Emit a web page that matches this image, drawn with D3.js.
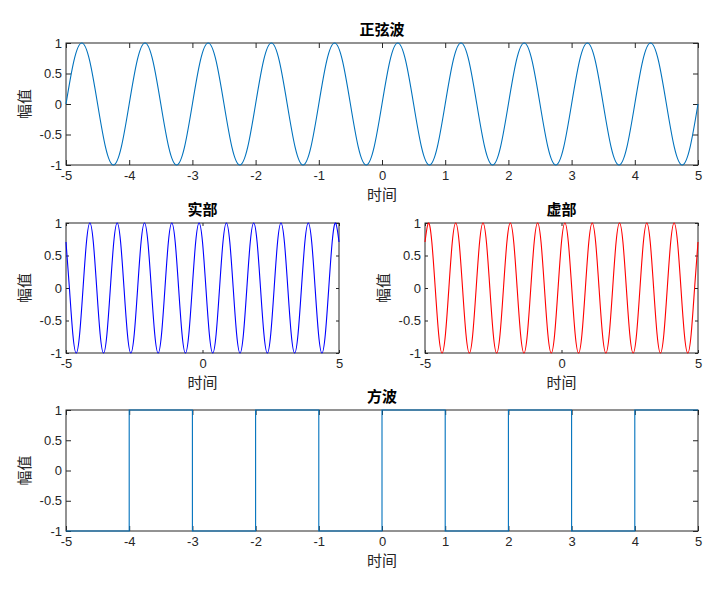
<!DOCTYPE html>
<html><head><meta charset="utf-8">
<script src="https://cdn.jsdelivr.net/npm/d3@7"></script>
<style>body{margin:0;background:#fff} svg{display:block}</style>
</head><body><svg id="c" width="726" height="589"></svg>
<script>
// sample times (s)
const time = [
 -5,-4.875,-4.75,-4.625,-4.5,-4.375,-4.25,-4.125,
 -4,-3.875,-3.75,-3.625,-3.5,-3.375,-3.25,-3.125,
 -3,-2.875,-2.75,-2.625,-2.5,-2.375,-2.25,-2.125,
 -2,-1.875,-1.75,-1.625,-1.5,-1.375,-1.25,-1.125,
 -1,-0.875,-0.75,-0.625,-0.5,-0.375,-0.25,-0.125,
 0,0.125,0.25,0.375,0.5,0.625,0.75,0.875,
 1,1.125,1.25,1.375,1.5,1.625,1.75,1.875,
 2,2.125,2.25,2.375,2.5,2.625,2.75,2.875,
 3,3.125,3.25,3.375,3.5,3.625,3.75,3.875,
 4,4.125,4.25,4.375,4.5,4.625,4.75,4.875,
 5];
const sineValues = [
 0,0.707,1,0.707,0,-0.707,-1,-0.707,
 0,0.707,1,0.707,0,-0.707,-1,-0.707,
 0,0.707,1,0.707,0,-0.707,-1,-0.707,
 0,0.707,1,0.707,0,-0.707,-1,-0.707,
 0,0.707,1,0.707,0,-0.707,-1,-0.707,
 0,0.707,1,0.707,0,-0.707,-1,-0.707,
 0,0.707,1,0.707,0,-0.707,-1,-0.707,
 0,0.707,1,0.707,0,-0.707,-1,-0.707,
 0,0.707,1,0.707,0,-0.707,-1,-0.707,
 0,0.707,1,0.707,0,-0.707,-1,-0.707,
 0];
const realValues = [
 0.707,0,-0.707,-1,-0.707,0,0.707,1,
 0.707,0,-0.707,-1,-0.707,0,0.707,1,
 0.707,0,-0.707,-1,-0.707,0,0.707,1,
 0.707,0,-0.707,-1,-0.707,0,0.707,1,
 0.707,0,-0.707,-1,-0.707,0,0.707,1,
 0.707,0,-0.707,-1,-0.707,0,0.707,1,
 0.707,0,-0.707,-1,-0.707,0,0.707,1,
 0.707,0,-0.707,-1,-0.707,0,0.707,1,
 0.707,0,-0.707,-1,-0.707,0,0.707,1,
 0.707,0,-0.707,-1,-0.707,0,0.707,1,
 0.707];
const imagValues = [
 0.707,1,0.707,0,-0.707,-1,-0.707,0,
 0.707,1,0.707,0,-0.707,-1,-0.707,0,
 0.707,1,0.707,0,-0.707,-1,-0.707,0,
 0.707,1,0.707,0,-0.707,-1,-0.707,0,
 0.707,1,0.707,0,-0.707,-1,-0.707,0,
 0.707,1,0.707,0,-0.707,-1,-0.707,0,
 0.707,1,0.707,0,-0.707,-1,-0.707,0,
 0.707,1,0.707,0,-0.707,-1,-0.707,0,
 0.707,1,0.707,0,-0.707,-1,-0.707,0,
 0.707,1,0.707,0,-0.707,-1,-0.707,0,
 0.707];
const squareTimes  = [-5,-4,-3,-2,-1,0,1,2,3,4,5];
const squareValues = [-1, 1,-1, 1,-1,1,-1,1,-1,1,1];

const titles = ["正弦波", "实部", "虚部", "方波"];
const xLabel = "时间";
const yLabel = "幅值";
const yTicks = [-1, -0.5, 0, 0.5, 1];
const xTicksFull = [-5,-4,-3,-2,-1,0,1,2,3,4,5];
const xTicksHalf = [-5, 0, 5];

const svg = d3.select("#c");
const AX = "#262626";
const tickFont = "'Liberation Sans', Arial, Helvetica, sans-serif";
const cjkFont = "'Noto Sans CJK SC', 'Noto Sans', sans-serif";

function panel(box, opts) {
  const x = d3.scaleLinear().domain([-5, 5]).range([box.l, box.r]);
  const y = d3.scaleLinear().domain([-1, 1]).range([box.b, box.t]);
  const g = svg.append("g");
  const tl = opts.tick;
  const fmt = d => String(d);

  const style = sel => {
    sel.select(".domain").remove();
    sel.selectAll("line").attr("stroke", AX).attr("stroke-width", 1);
    sel.selectAll("text").attr("fill", AX).attr("font-family", tickFont).attr("font-size", 13);
  };
  g.append("g").attr("transform", `translate(0,${box.b})`)
    .call(d3.axisBottom(x).tickValues(opts.xt).tickFormat(fmt).tickSize(-tl).tickPadding(6)).call(style);
  g.append("g").attr("transform", `translate(0,${box.t})`)
    .call(d3.axisTop(x).tickValues(opts.xt).tickFormat("").tickSize(-tl)).call(style);
  g.append("g").attr("transform", `translate(${box.l},0)`)
    .call(d3.axisLeft(y).tickValues(yTicks).tickFormat(fmt).tickSize(-tl).tickPadding(4)).call(style);
  g.append("g").attr("transform", `translate(${box.r},0)`)
    .call(d3.axisRight(y).tickValues(yTicks).tickFormat("").tickSize(-tl)).call(style);

  g.append("rect").attr("x", box.l).attr("y", box.t)
    .attr("width", box.r - box.l).attr("height", box.b - box.t)
    .attr("fill", "none").attr("stroke", AX).attr("stroke-width", 1);

  const line = d3.line().x(d => x(d[0])).y(d => y(d[1])).curve(opts.curve);
  g.append("path").datum(d3.zip(opts.tx, opts.vals))
    .attr("d", line).attr("fill", "none")
    .attr("stroke", opts.color).attr("stroke-width", 1.1);

  g.append("text").attr("x", (box.l + box.r) / 2).attr("y", box.t - 8)
    .attr("text-anchor", "middle").attr("font-family", cjkFont)
    .attr("font-weight", "bold").attr("font-size", 15).attr("fill", "#000")
    .text(opts.title);
  g.append("text").attr("x", (box.l + box.r) / 2).attr("y", box.b + 35)
    .attr("text-anchor", "middle").attr("font-family", cjkFont)
    .attr("font-size", 15).attr("fill", AX).text(xLabel);
  g.append("text")
    .attr("transform", `translate(${box.l - 36},${(box.t + box.b) / 2}) rotate(-90)`)
    .attr("text-anchor", "middle").attr("font-family", cjkFont)
    .attr("font-size", 15).attr("fill", AX).text(yLabel);
}

panel({l: 66, r: 698, t: 43, b: 165}, {tick: 5, xt: xTicksFull, tx: time, vals: sineValues,
  color: "#0072BD", curve: d3.curveNatural, title: titles[0]});
panel({l: 66, r: 339, t: 223, b: 353}, {tick: 3, xt: xTicksHalf, tx: time, vals: realValues,
  color: "#0000FF", curve: d3.curveNatural, title: titles[1]});
panel({l: 425, r: 698, t: 223, b: 353}, {tick: 3, xt: xTicksHalf, tx: time, vals: imagValues,
  color: "#FF0000", curve: d3.curveNatural, title: titles[2]});
panel({l: 66, r: 698, t: 410, b: 531}, {tick: 5, xt: xTicksFull, tx: squareTimes, vals: squareValues,
  color: "#0072BD", curve: d3.curveStepAfter, title: titles[3]});
</script></body></html>
